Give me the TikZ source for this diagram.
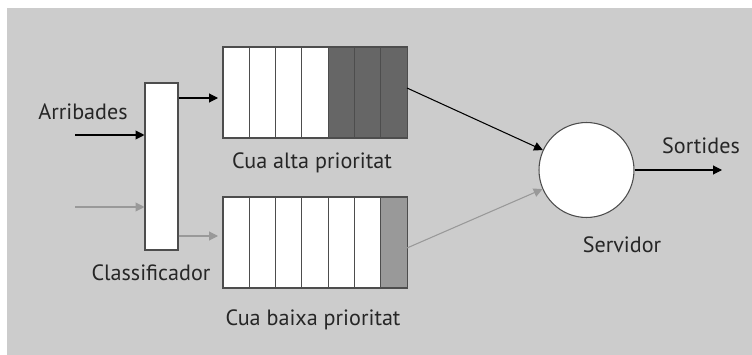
\documentclass[tikz,border=0pt]{standalone}
\usepackage{fontspec}
\setmainfont{PT Sans}
\usetikzlibrary{arrows.meta}
\usetikzlibrary{positioning}

\definecolor{fons}{HTML}{CCCCCC}
\definecolor{llarg}{HTML}{666666}
\definecolor{baix}{HTML}{999999}
\definecolor{linia}{HTML}{4D4D4D}

\tikzset{
  cel/.style={draw=linia, semithick, fill=white},
  fletxa/.style={-{Triangle[length=5pt,width=5pt]}, semithick},
  fletxagris/.style={fletxa, draw=baix, fill=baix},
  etiq/.style={font=\fontsize{12.6}{14}\selectfont, text=black!85, inner sep=1pt}
}

\begin{document}
\begin{tikzpicture}[x=0.02cm, y=-0.02cm]

\useasboundingbox (0,0) rectangle (752,355);
\fill[fons] (7,8) rectangle (752,355);

% classificador
\node[cel, minimum width=0.66cm, minimum height=3.34cm, inner sep=0] (cls) at (161.5,166.5) {};
\node[etiq] (clst) at (151,273) {Classificador};

% cues
\foreach \i in {0,...,6} {
  \pgfmathsetmacro{\xa}{223+\i*26.3}
  \ifnum\i>3
    \draw[cel, fill=llarg] (\xa,47) rectangle ++(26.3,91);
  \else
    \draw[cel] (\xa,47) rectangle ++(26.3,91);
  \fi
  \ifnum\i=6
    \draw[cel, fill=baix] (\xa,197) rectangle ++(26.3,91);
  \else
    \draw[cel] (\xa,197) rectangle ++(26.3,91);
  \fi
}
\coordinate (qa) at (218,98);
\coordinate (qb) at (218,236);
\coordinate (qaout) at (407,88);
\coordinate (qbout) at (407,248);
\node[etiq] (qat) at (312,163) {Cua alta prioritat};
\node[etiq] (qbt) at (313,320) {Cua baixa prioritat};

% servidor
\node[circle, cel, minimum size=1.9cm, inner sep=0] (srv) at (586.5,170) {};
\node[etiq] (srvt) at (622,245) {Servidor};

% entrades
\coordinate (in1) at (75,135);
\coordinate (in2) at (75,207);
\node[etiq] (arr) at (83,112) {Arribades};
\draw[fletxa] (in1) -- (cls.west |- in1);
\draw[fletxagris] (in2) -- (cls.west |- in2);

% sortides del classificador
\draw[fletxa] (cls.east |- qa) -- (qa);
\draw[fletxagris] (cls.east |- qb) -- (qb);

% cap al servidor
\draw[fletxa] (qaout) -- (srv);
\draw[fletxagris] (qbout) -- (srv);

% sortida
\coordinate (out) at (722,170);
\draw[fletxa] (srv) -- (out);
\node[etiq] (sort) at (701,146) {Sortides};
\end{tikzpicture}
\end{document}
